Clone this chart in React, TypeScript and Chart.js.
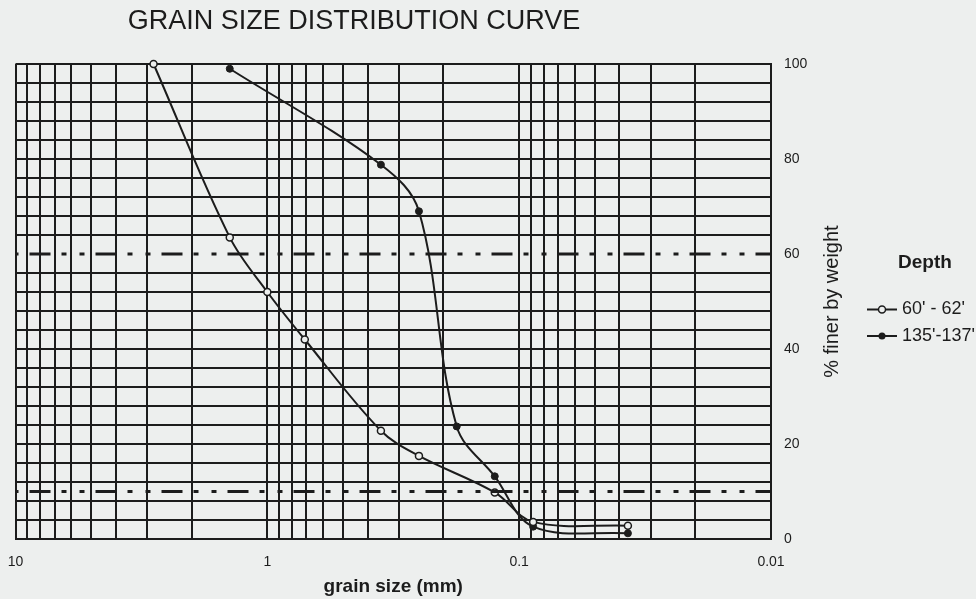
import React, { useEffect, useRef } from 'react';
import { Chart, registerables } from 'chart.js';

Chart.register(...registerables);

// ---------- data ----------
const chartTitle = 'GRAIN SIZE DISTRIBUTION CURVE';
const xTitle = 'grain size (mm)';
const yTitle = '% finer by weight';
const legendTitle = 'Depth';

const seriesAName = "60' - 62'";
const sizesA = [2.83, 1.41, 1.0, 0.71, 0.354, 0.25, 0.125, 0.088, 0.037];
const finerA = [100, 63.5, 52, 42, 22.8, 17.5, 9.8, 3.6, 2.8];

const seriesBName = "135'-137'";
const sizesB = [1.41, 0.354, 0.25, 0.177, 0.125, 0.088, 0.037];
const finerB = [99, 78.8, 69, 23.7, 13.2, 2.6, 1.2];

const refLevels = [60, 10]; // D60 and D10 reference lines

const xMajorTicks = [10, 1, 0.1, 0.01];
const xTickLabels = ['10', '1', '0.1', '0.01'];
const gridMultipliers = [1, 2, 3, 4, 5, 6, 7, 8, 9];
const yLabelTicks = [0, 20, 40, 60, 80, 100];
const yGridStep = 4;

// ---------- styles ----------
const FONT = "'Liberation Sans', Arial, Helvetica, sans-serif";
const INK = '#1c1c1c';
const BG = '#edefee';

const xGridValues: number[] = [xMajorTicks[0]];
xMajorTicks.slice(1).forEach((d) => gridMultipliers.forEach((m) => xGridValues.push(m * d)));

const drawMarker = (ctx: CanvasRenderingContext2D, x: number, y: number, open: boolean) => {
  ctx.beginPath();
  ctx.arc(x, y, 3.5, 0, Math.PI * 2);
  if (open) {
    ctx.fillStyle = BG;
    ctx.fill();
    ctx.lineWidth = 1.5;
    ctx.strokeStyle = INK;
    ctx.stroke();
  } else {
    ctx.fillStyle = INK;
    ctx.fill();
  }
};

const textPlugin = {
  id: 'extraText',
  afterDraw(chart: any) {
    const ctx: CanvasRenderingContext2D = chart.ctx;
    ctx.save();
    ctx.fillStyle = INK;
    ctx.textBaseline = 'middle';

    // chart title
    ctx.font = `27px ${FONT}`;
    ctx.textAlign = 'center';
    ctx.fillText(chartTitle, 354, 22);

    // y axis title (reads bottom to top)
    ctx.save();
    ctx.translate(832, 301.5);
    ctx.rotate(-Math.PI / 2);
    ctx.font = `20px ${FONT}`;
    ctx.textAlign = 'center';
    ctx.fillText(yTitle, 0, 0);
    ctx.restore();

    // legend
    ctx.font = `bold 19px ${FONT}`;
    ctx.textAlign = 'center';
    ctx.fillStyle = INK;
    ctx.fillText(legendTitle, 925, 263);

    const entries = [
      { name: seriesAName, open: true, y: 309.5 },
      { name: seriesBName, open: false, y: 336 },
    ];
    entries.forEach((e) => {
      ctx.beginPath();
      ctx.moveTo(867, e.y);
      ctx.lineTo(897, e.y);
      ctx.lineWidth = 2;
      ctx.strokeStyle = INK;
      ctx.stroke();
      drawMarker(ctx, 882, e.y, e.open);
      ctx.fillStyle = INK;
      ctx.font = `18px ${FONT}`;
      ctx.textAlign = 'left';
      ctx.fillText(e.name, 902, e.y);
    });
    ctx.restore();
  },
};

export default function App() {
  const canvasRef = useRef<HTMLCanvasElement | null>(null);

  useEffect(() => {
    if (!canvasRef.current) return;
    const chart = new Chart(canvasRef.current, {
      type: 'scatter',
      data: {
        datasets: [
          ...refLevels.map((v) => ({
            label: `ref ${v}`,
            data: [
              { x: xMajorTicks[0], y: v },
              { x: xMajorTicks[xMajorTicks.length - 1], y: v },
            ],
            showLine: true,
            borderColor: INK,
            borderWidth: 3,
            borderDash: [21, 11, 5, 13, 5, 11],
            borderDashOffset: 52,
            pointRadius: 0,
            tension: 0,
          })),
          {
            label: seriesAName,
            data: sizesA.map((x, i) => ({ x, y: finerA[i] })),
            showLine: true,
            borderColor: INK,
            borderWidth: 2,
            tension: 0.35,
            pointRadius: 3.5,
            pointBackgroundColor: BG,
            pointBorderColor: INK,
            pointBorderWidth: 1.5,
            clip: false,
          },
          {
            label: seriesBName,
            data: sizesB.map((x, i) => ({ x, y: finerB[i] })),
            showLine: true,
            borderColor: INK,
            borderWidth: 2,
            tension: 0.35,
            pointRadius: 3.5,
            pointBackgroundColor: INK,
            pointBorderColor: INK,
            pointBorderWidth: 1,
            clip: false,
          },
        ],
      },
      options: {
        animation: false,
        responsive: true,
        maintainAspectRatio: false,
        devicePixelRatio: 1,
        events: [],
        layout: { padding: { left: 15.5, top: 64, right: 165, bottom: 0 } },
        plugins: {
          legend: { display: false },
          tooltip: { enabled: false },
          title: { display: false },
        },
        scales: {
          x: {
            type: 'logarithmic',
            reverse: true,
            min: xMajorTicks[xMajorTicks.length - 1],
            max: xMajorTicks[0],
            afterBuildTicks: (s: any) => {
              s.ticks = xGridValues.map((v) => ({ value: v }));
            },
            afterFit: (s: any) => {
              s.height = 60;
              s.paddingLeft = 0;
              s.paddingRight = 0;
            },
            ticks: {
              autoSkip: false,
              maxRotation: 0,
              padding: 15,
              color: INK,
              font: { size: 14, family: FONT },
              callback: (v: any) => {
                const i = xMajorTicks.findIndex((m) => Math.abs(m - Number(v)) / m < 1e-6);
                return i >= 0 ? xTickLabels[i] : '';
              },
            },
            grid: { color: INK, lineWidth: 2, drawTicks: false },
            border: { color: INK, width: 2 },
            title: {
              display: true,
              text: xTitle,
              color: INK,
              font: { size: 19, weight: 'bold', family: FONT },
              padding: { top: 0, bottom: 1 },
            },
          },
          y: {
            type: 'linear',
            position: 'right',
            min: yLabelTicks[0],
            max: yLabelTicks[yLabelTicks.length - 1],
            afterFit: (s: any) => {
              s.width = 40;
            },
            ticks: {
              stepSize: yGridStep,
              autoSkip: false,
              padding: 13,
              color: INK,
              font: { size: 14, family: FONT },
              callback: (v: any) => (yLabelTicks.includes(Number(v)) ? String(v) : ''),
            },
            grid: {
              // the D60 reference line replaces its grid line
              color: (c: any) => (c.tick && c.tick.value === refLevels[0] ? 'rgba(0,0,0,0)' : INK),
              lineWidth: 2,
              drawTicks: false,
            },
            border: { color: INK, width: 2 },
          },
        },
      } as any,
      plugins: [textPlugin],
    });
    return () => chart.destroy();
  }, []);

  return (
    <div style={{ position: 'fixed', left: 0, top: 0, width: 976, height: 599, background: BG }}>
      <canvas ref={canvasRef} />
    </div>
  );
}
